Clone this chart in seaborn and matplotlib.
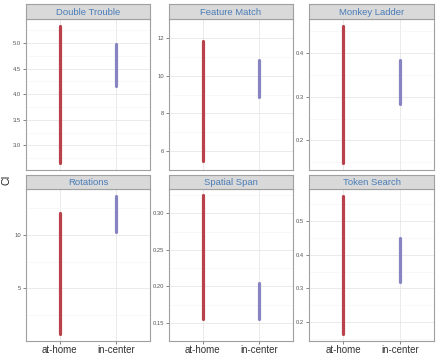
import matplotlib
matplotlib.use("Agg")
import matplotlib.pyplot as plt
import seaborn as sns
import pandas as pd
import numpy as np

tests = ["Double Trouble", "Feature Match", "Monkey Ladder",
         "Rotations", "Spatial Span", "Token Search"]
locations = ["at-home", "in-center"]
home_lo = [2.65, 5.50, 0.148, 0.74, 0.155, 0.165]
home_hi = [5.34, 11.85, 0.4625, 12.04, 0.325, 0.574]
center_lo = [4.16, 8.87, 0.2835, 10.24, 0.155, 0.320]
center_hi = [4.98, 10.83, 0.384, 13.64, 0.2045, 0.450]
yticks = [[3.0, 3.5, 4.0, 4.5, 5.0], [6, 8, 10, 12], [0.2, 0.3, 0.4],
          [5, 10], [0.15, 0.20, 0.25, 0.30], [0.2, 0.3, 0.4, 0.5]]
ytick_fmt = ["{:.1f}", "{:.0f}", "{:.1f}", "{:.0f}", "{:.2f}", "{:.1f}"]
colors = {"at-home": "#B8414C", "in-center": "#8784C2"}

rows = []
for i, t in enumerate(tests):
    rows.append((t, "at-home", home_lo[i]))
    rows.append((t, "at-home", home_hi[i]))
    rows.append((t, "in-center", center_lo[i]))
    rows.append((t, "in-center", center_hi[i]))
df = pd.DataFrame(rows, columns=["test", "location", "CI"])
df["pos"] = pd.Categorical(df["location"], categories=locations).codes

sns.set_style("white")
plt.rcParams["font.family"] = ["Liberation Sans", "DejaVu Sans"]

W, H = 440, 355
fig = plt.figure(figsize=(W / 100, H / 100), dpi=100)

cols_px = [(26, 150), (169, 293), (309, 434)]
rows_px = [(4, 19, 170), (175, 189, 341)]
border = "#A0A0A0"

for i, t in enumerate(tests):
    r, c = divmod(i, 3)
    x0, x1 = cols_px[c]
    st, sb, pb = rows_px[r]
    ax = fig.add_axes([x0 / W, 1 - pb / H, (x1 - x0) / W, (pb - sb) / H])
    sub = df[df["test"] == t]
    sns.lineplot(data=sub, x="pos", y="CI", hue="location", palette=colors,
                 units="location", estimator=None, sort=False, legend=False,
                 ax=ax, lw=2.3, solid_capstyle="round")
    vals = sub["CI"].values
    lo, hi = vals.min(), vals.max()
    pad = (hi - lo) * 0.05
    ax.set_ylim(lo - pad, hi + pad)
    ax.set_xlim(-0.6, 1.6)
    yt = yticks[i]
    ax.set_yticks(yt)
    ax.set_yticklabels([ytick_fmt[i].format(v) for v in yt])
    step = yt[1] - yt[0]
    minor = [v - step / 2 for v in yt] + [yt[-1] + step / 2]
    ax.set_yticks(minor, minor=True)
    ax.set_xticks([0, 1])
    ax.set_xticks([], minor=True)
    ax.grid(True, which="major", color="#E6E6E6", lw=0.6)
    ax.grid(True, which="minor", axis="y", color="#F3F3F3", lw=0.4)
    ax.set_axisbelow(True)
    for sp in ax.spines.values():
        sp.set_color(border)
        sp.set_linewidth(0.8)
    ax.tick_params(axis="y", which="major", labelsize=4.2, colors="#555555",
                   length=2, width=0.5, pad=1.5, left=True)
    ax.tick_params(axis="y", which="minor", length=0)
    if r == 1:
        ax.set_xticklabels(locations)
        ax.tick_params(axis="x", labelsize=7, labelcolor="#333333",
                       colors="#555555", length=2, width=0.5, pad=1, bottom=True)
    else:
        ax.set_xticklabels([])
        ax.tick_params(axis="x", length=0)
    ax.set_xlabel("")
    ax.set_ylabel("")

    sax = fig.add_axes([x0 / W, 1 - sb / H, (x1 - x0) / W, (sb - st) / H])
    sax.set_facecolor("#D9D9D9")
    sax.set_xticks([])
    sax.set_yticks([])
    for sp in sax.spines.values():
        sp.set_color(border)
        sp.set_linewidth(0.8)
    sax.text(0.5, 0.45, t, ha="center", va="center", fontsize=6.8,
             color="#4A7DB8", transform=sax.transAxes)

fig.text(6 / W, 1 - 180 / H, "CI", rotation=90, ha="center", va="center",
         fontsize=7.5, color="#222222")

fig.savefig("out.png", dpi=100)
